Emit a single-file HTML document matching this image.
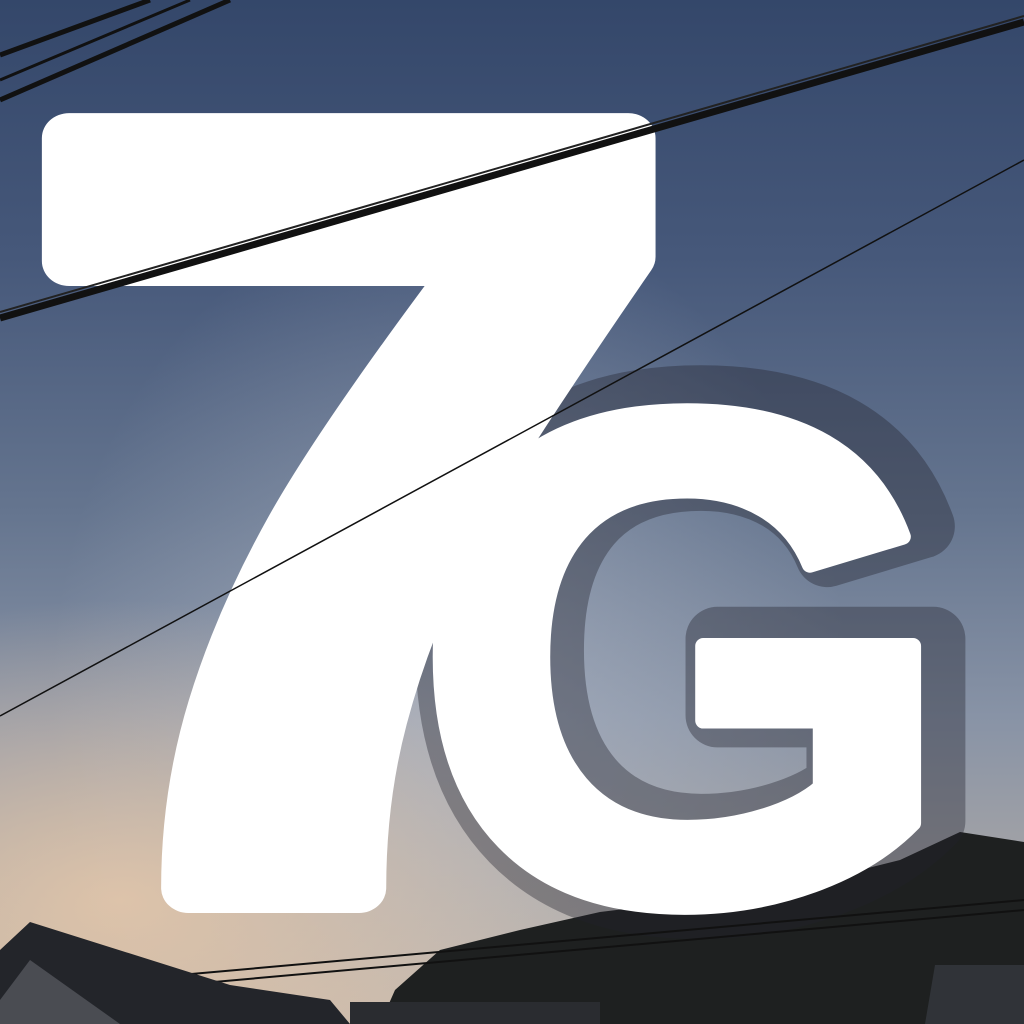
<!DOCTYPE html>
<html><head><meta charset="utf-8">
<style>
html,body{margin:0;padding:0;width:1024px;height:1024px;overflow:hidden}
#wrap{position:relative;width:1024px;height:1024px;overflow:hidden}
#bg{position:absolute;left:0;top:0;width:1024px;height:1024px;
background:
 radial-gradient(ellipse 500px 300px at 120px 900px, rgba(230,200,170,0.85), rgba(230,200,170,0) 100%),
 radial-gradient(ellipse 400px 500px at 450px 700px, rgba(200,205,215,0.45), rgba(200,205,215,0) 100%),
 linear-gradient(180deg,#34476a 0%,#46587a 25%,#65758f 50%,#8893a6 70%,#aaa7a6 88%,#c3b4a6 100%);}
svg{position:absolute;left:0;top:0;overflow:hidden;display:block}
</style></head>
<body>
<div id="wrap">
<div id="bg"></div>
<svg width="1024" height="1024" viewBox="0 0 1024 1024">
  <path d="M380,1024 L395,990 L440,950 L520,930 L600,912 L700,900 L800,885 L900,860 L960,832 L1024,842 L1024,1024 Z" fill="#1e2020"/>
  <text x="400" y="905" font-family="Liberation Sans, sans-serif" font-weight="bold" font-size="720" fill="none" stroke="rgba(35,35,45,0.38)" stroke-width="64" stroke-linejoin="round" transform="translate(18,-5)">G</text>
  <text x="0" y="888" font-family="Liberation Sans, sans-serif" font-weight="bold" font-size="1090" fill="#fff" stroke="#fff" stroke-width="50" stroke-linejoin="round" transform="translate(18,0) scale(1.093,1)">7</text>
  <text x="412" y="900" font-family="Liberation Sans, sans-serif" font-weight="bold" font-size="700" fill="#fff" stroke="#fff" stroke-width="16" stroke-linejoin="round">G</text>
  <line x1="0" y1="318" x2="1024" y2="22" stroke="#111" stroke-width="7"/>
  <line x1="0" y1="312" x2="1024" y2="16" stroke="#222" stroke-width="2"/>
  <line x1="0" y1="716" x2="1024" y2="160" stroke="#111" stroke-width="1.5"/>
  <line x1="0" y1="55" x2="150" y2="0" stroke="#111" stroke-width="5"/>
  <line x1="0" y1="100" x2="230" y2="0" stroke="#111" stroke-width="5"/>
  <line x1="0" y1="80" x2="190" y2="0" stroke="#111" stroke-width="3"/>
  <line x1="180" y1="975" x2="1024" y2="900" stroke="#111" stroke-width="2"/>
  <line x1="180" y1="985" x2="1024" y2="910" stroke="#111" stroke-width="2"/>
  <path d="M0,950 L30,922 L230,985 L330,1000 L350,1024 L0,1024 Z" fill="#23252a"/>
  <path d="M0,1000 L30,960 L120,1024 L0,1024 Z" fill="#4a4c52"/>
  <rect x="350" y="1002" width="250" height="22" fill="#2a2c30"/>
  <path d="M925,1024 L935,965 L1024,965 L1024,1024 Z" fill="#303338"/>
</svg>
</div>
</body></html>
